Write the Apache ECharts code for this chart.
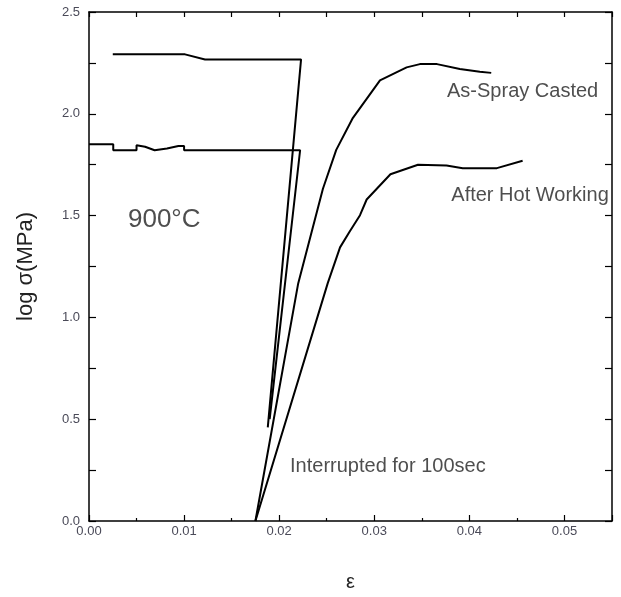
<!DOCTYPE html>
<html><head><meta charset="utf-8">
<script src="https://cdn.jsdelivr.net/npm/echarts@6/dist/echarts.min.js"></script>
<style>html,body{margin:0;padding:0;background:#fff}#c{width:621px;height:597px}</style>
</head><body><div id="c"></div><script>
// Axis ranges / ticks
const xRange = [0, 0.055];
const yRange = [0, 2.5];
const xMajor = 0.01;
const yMajor = 0.5;

// Curves: [strain, log stress]
const asSprayHold = [[0.0025,2.292],[0.0101,2.292],[0.0122,2.267],[0.0223,2.267],[0.0188,0.46]];
const afterHotHold = [[0,1.85],[0.00255,1.85],[0.00255,1.821],[0.0050,1.821],[0.0050,1.845],[0.0059,1.838],[0.0069,1.821],[0.0082,1.830],[0.0094,1.842],[0.0100,1.842],[0.0100,1.821],[0.0222,1.821],[0.0190,0.50]];
const asSprayReload = [[0.0175,0],[0.0220,1.167],[0.0246,1.632],[0.0260,1.823],[0.0277,1.976],[0.0306,2.164],[0.0334,2.228],[0.0348,2.244],[0.0366,2.244],[0.0390,2.220],[0.0411,2.207],[0.0423,2.201]];
const afterHotReload = [[0.0175,0],[0.0251,1.167],[0.0264,1.344],[0.0274,1.421],[0.0285,1.502],[0.0292,1.579],[0.0317,1.703],[0.0346,1.750],[0.0376,1.746],[0.0393,1.733],[0.0429,1.733],[0.0456,1.769]];

// Annotations
const noteX = [0.03765, 0.0381, 0.02114, 0.0041];
const noteY = [2.108, 1.598, 0.268, 1.48];
const noteText = ['As-Spray Casted', 'After Hot Working', 'Interrupted for 100sec', '900°C'];
const noteSize = [20, 20, 20, 26];

const FONT = 'Liberation Sans, Arial, sans-serif';
const chart = echarts.init(document.getElementById('c'), null, {renderer: 'canvas'});

function lineSeries(data) {
  return {type: 'line', data: data, showSymbol: false, symbol: 'none', animation: false,
    lineStyle: {color: '#000', width: 2}, silent: true, xAxisIndex: 0, yAxisIndex: 0};
}

const notesData = noteText.map((t, i) => ({value: [noteX[i], noteY[i]], name: t,
  label: {fontSize: noteSize[i]}}));

chart.setOption({
  animation: false,
  backgroundColor: '#fff',
  grid: {left: 89, right: 9, top: 12, bottom: 63, containLabel: false},
  xAxis: [
    {type: 'value', min: xRange[0], max: xRange[1], interval: xMajor, position: 'bottom',
      name: 'ε', nameLocation: 'middle', nameGap: 51,
      nameTextStyle: {fontFamily: FONT, fontSize: 20, color: '#222'},
      axisLine: {show: true, onZero: false, lineStyle: {color: '#000', width: 1.5}},
      axisTick: {show: true, inside: true, length: 6, lineStyle: {color: '#000', width: 1.2}},
      minorTick: {show: true, splitNumber: 2, length: 3, lineStyle: {color: '#000', width: 1.2}},
      splitLine: {show: false}, minorSplitLine: {show: false},
      axisLabel: {show: true, margin: 4, fontFamily: FONT, fontSize: 13, color: '#4a4a58',
        formatter: v => v.toFixed(2), showMaxLabel: false}},
    {type: 'value', min: xRange[0], max: xRange[1], interval: xMajor / 2, position: 'top',
      axisLine: {show: true, onZero: false, lineStyle: {color: '#000', width: 1.5}},
      axisTick: {show: true, inside: true, length: 5, lineStyle: {color: '#000', width: 1.2}},
      splitLine: {show: false}, axisLabel: {show: false}}
  ],
  yAxis: [
    {type: 'value', min: yRange[0], max: yRange[1], interval: yMajor, position: 'left',
      name: 'log σ(MPa)', nameLocation: 'middle', nameGap: 52, nameRotate: 90,
      nameTextStyle: {fontFamily: FONT, fontSize: 22, color: '#222'},
      axisLine: {show: true, onZero: false, lineStyle: {color: '#000', width: 1.5}},
      axisTick: {show: true, inside: true, length: 7, lineStyle: {color: '#000', width: 1.2}},
      minorTick: {show: true, splitNumber: 2, length: 7, lineStyle: {color: '#000', width: 1.2}},
      splitLine: {show: false}, minorSplitLine: {show: false},
      axisLabel: {show: true, margin: 9, fontFamily: FONT, fontSize: 13, color: '#4a4a58',
        formatter: v => v.toFixed(1)}},
    {type: 'value', min: yRange[0], max: yRange[1], interval: yMajor / 2, position: 'right',
      axisLine: {show: true, onZero: false, lineStyle: {color: '#000', width: 1.5}},
      axisTick: {show: true, inside: true, length: 7, lineStyle: {color: '#000', width: 1.2}},
      splitLine: {show: false}, axisLabel: {show: false}}
  ],
  series: [
    lineSeries(asSprayHold),
    lineSeries(afterHotHold),
    lineSeries(asSprayReload),
    lineSeries(afterHotReload),
    {type: 'scatter', data: notesData, symbolSize: 0, silent: true, animation: false,
      label: {show: true, position: 'right', distance: 0, formatter: p => p.name,
        fontFamily: FONT, color: '#222', align: 'left', verticalAlign: 'middle'}}
  ]
});
</script></body></html>
